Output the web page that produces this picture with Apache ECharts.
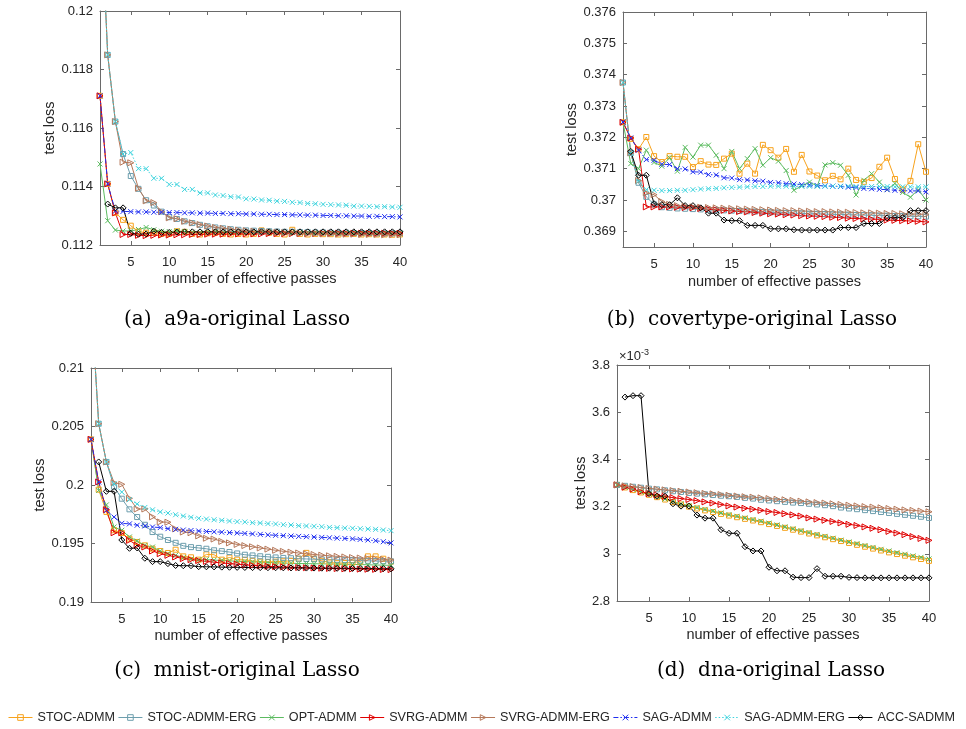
<!DOCTYPE html>
<html><head><meta charset="utf-8">
<script src="https://cdn.jsdelivr.net/npm/echarts@6/dist/echarts.min.js"></script>
<style>html,body{margin:0;padding:0;background:#fff}#c{width:966px;height:729px}</style>
</head><body><div id="c"></div>
<script>
// ---------- data ----------
const passes = [1,2,3,4,5,6,7,8,9,10,11,12,13,14,15,16,17,18,19,20,21,22,23,24,25,26,27,28,29,30,31,32,33,34,35,36,37,38,39,40];
const methods = ['STOC-ADMM','STOC-ADMM-ERG','OPT-ADMM','SVRG-ADMM','SVRG-ADMM-ERG','SAG-ADMM','SAG-ADMM-ERG','ACC-SADMM'];
const xTicks = [5,10,15,20,25,30,35,40];
const yTicksA = [0.112,0.114,0.116,0.118,0.12];
const yTicksB = [0.369,0.37,0.371,0.372,0.373,0.374,0.375,0.376];
const yTicksC = [0.19,0.195,0.2,0.205,0.21];
const yTicksD = [2.8,3,3.2,3.4,3.6,3.8];
const captions = ['(a)  a9a-original Lasso','(b)  covertype-original Lasso','(c)  mnist-original Lasso','(d)  dna-original Lasso'];

// (a) a9a
const a_stoc = [0.1171,0.11409,0.1131,0.11286,0.11266,0.11246,0.11242,0.11243,0.11238,0.11238,0.11247,0.11245,0.11238,0.11236,0.1124,0.11242,0.11238,0.11236,0.11238,0.11236,0.11238,0.1125,0.11242,0.11238,0.11236,0.11252,0.11238,0.11236,0.11238,0.11237,0.11237,0.11236,0.11237,0.11238,0.11236,0.11237,0.11236,0.11236,0.11235,0.11236];
const a_stocErg = [0.1243,0.1185,0.11622,0.11511,0.11436,0.11392,0.11353,0.11335,0.11314,0.11295,0.11289,0.11281,0.11275,0.11269,0.11264,0.1126,0.11257,0.11254,0.11252,0.1125,0.11249,0.11248,0.11247,0.11246,0.11245,0.11245,0.11244,0.11244,0.11243,0.11243,0.11242,0.11242,0.11242,0.11241,0.11241,0.11241,0.1124,0.1124,0.1124,0.1124];
const a_opt = [0.11477,0.11283,0.11251,0.11248,0.11248,0.11253,0.1126,0.11252,0.11247,0.11246,0.11248,0.11246,0.11244,0.11243,0.11243,0.11244,0.11243,0.11242,0.11243,0.11243,0.11242,0.11243,0.11243,0.11242,0.11243,0.11242,0.11242,0.11243,0.11242,0.11242,0.11242,0.11241,0.11242,0.11241,0.11241,0.11241,0.11241,0.1124,0.11241,0.1124];
const a_svrg = [0.1171,0.11409,0.1131,0.11236,0.11236,0.11233,0.11232,0.11233,0.11234,0.11234,0.11235,0.11235,0.11236,0.11236,0.11237,0.11237,0.11237,0.11238,0.11238,0.11238,0.11238,0.11238,0.11239,0.11239,0.11239,0.11239,0.11239,0.11239,0.11239,0.1124,0.1124,0.1124,0.1124,0.1124,0.1124,0.1124,0.1124,0.1124,0.1124,0.1124];
const a_svrgErg = [0.1243,0.1185,0.11622,0.11483,0.11481,0.11394,0.11351,0.11345,0.11314,0.11293,0.1129,0.11281,0.11276,0.1127,0.11265,0.1126,0.11257,0.11254,0.11251,0.11249,0.11247,0.11245,0.11244,0.11243,0.11242,0.11241,0.1124,0.11239,0.11239,0.11238,0.11238,0.11237,0.11237,0.11237,0.11236,0.11236,0.11236,0.11235,0.11235,0.11235];
const a_sag = [0.1171,0.11409,0.11316,0.11315,0.11314,0.11313,0.11313,0.11312,0.11312,0.11311,0.11311,0.1131,0.1131,0.11309,0.11309,0.11308,0.11308,0.11307,0.11307,0.11306,0.11306,0.11305,0.11305,0.11304,0.11304,0.11303,0.11303,0.11302,0.11302,0.11301,0.11301,0.113,0.113,0.11299,0.11299,0.11298,0.11298,0.11297,0.11297,0.11296];
const a_sagErg = [0.1243,0.1185,0.11622,0.11511,0.11516,0.11461,0.11461,0.11428,0.11428,0.11407,0.11407,0.1139,0.1139,0.11378,0.11378,0.11371,0.11369,0.11365,0.11364,0.11358,0.11357,0.11354,0.11353,0.1135,0.11349,0.11346,0.11345,0.11342,0.11341,0.11339,0.11338,0.11337,0.11336,0.11333,0.11333,0.11332,0.11331,0.11331,0.1133,0.11329];
const a_acc = [null,0.1134,0.11327,0.11327,0.1124,0.11237,0.11238,0.11247,0.11243,0.11243,0.11244,0.11245,0.11245,0.11245,0.11245,0.11245,0.11245,0.11245,0.11245,0.11245,0.11245,0.11245,0.11245,0.11245,0.11245,0.11245,0.11245,0.11245,0.11245,0.11245,0.11245,0.11245,0.11245,0.11245,0.11245,0.11245,0.11245,0.11245,0.11245,0.11245];

// (b) covertype
const b_stoc = [0.37248,0.37195,0.37162,0.37201,0.3714,0.37121,0.3714,0.37138,0.37138,0.37105,0.37124,0.37113,0.37112,0.37132,0.37148,0.37084,0.37116,0.37084,0.37176,0.37159,0.37135,0.37163,0.3709,0.37144,0.37091,0.37078,0.37063,0.37077,0.37066,0.371,0.37064,0.37058,0.3707,0.37106,0.37135,0.37067,0.37033,0.37061,0.37178,0.3709];
const b_stocErg = [0.37375,0.3715,0.37055,0.3701,0.36986,0.36977,0.36975,0.36973,0.36972,0.36971,0.3697,0.36969,0.36968,0.36967,0.36966,0.36965,0.36964,0.36963,0.36962,0.36961,0.3696,0.36959,0.36958,0.36957,0.36956,0.36956,0.36955,0.36954,0.36954,0.36953,0.36952,0.36952,0.36951,0.3695,0.3695,0.36949,0.36949,0.36948,0.36948,0.36947];
const b_opt = [0.37248,0.37116,0.371,0.37159,0.3712,0.37108,0.37135,0.37092,0.37168,0.37137,0.37175,0.37175,0.37143,0.371,0.37155,0.371,0.37132,0.37164,0.37111,0.37135,0.37124,0.37094,0.37031,0.37045,0.37057,0.37045,0.37112,0.37119,0.37111,0.37079,0.37016,0.37063,0.37084,0.37057,0.37033,0.37053,0.37024,0.37009,0.37033,0.37];
const b_svrg = [0.37248,0.37198,0.37162,0.36978,0.36978,0.36978,0.36978,0.36977,0.36976,0.36975,0.36973,0.36971,0.36969,0.36967,0.36965,0.36963,0.36962,0.3696,0.36958,0.36956,0.36955,0.36953,0.36952,0.3695,0.36949,0.36948,0.36947,0.36945,0.36944,0.36942,0.36941,0.3694,0.36939,0.36938,0.36936,0.36935,0.36934,0.36933,0.36932,0.3693];
const b_svrgErg = [0.37375,0.3715,0.37062,0.37023,0.37017,0.36995,0.36986,0.36982,0.3698,0.36978,0.36977,0.36976,0.36975,0.36974,0.36973,0.36972,0.36971,0.3697,0.36969,0.36968,0.36967,0.36966,0.36966,0.36965,0.36964,0.36963,0.36963,0.36962,0.36961,0.36961,0.3696,0.36959,0.36959,0.36958,0.36957,0.36957,0.36956,0.36955,0.36955,0.36954];
const b_sag = [0.37249,0.37198,0.37159,0.37129,0.37127,0.37114,0.37113,0.371,0.37099,0.3709,0.37089,0.37081,0.3708,0.37071,0.3707,0.37065,0.37064,0.37061,0.3706,0.37056,0.37055,0.37052,0.37051,0.37049,0.37048,0.37046,0.37045,0.37044,0.37043,0.37041,0.3704,0.37037,0.37036,0.37034,0.37033,0.37031,0.3703,0.37029,0.37029,0.37026];
const b_sagErg = [0.37375,0.3715,0.3706,0.37033,0.37031,0.3703,0.3703,0.37031,0.37031,0.37033,0.37035,0.37036,0.37037,0.37039,0.3704,0.37041,0.37042,0.37043,0.37043,0.37044,0.37044,0.37044,0.37044,0.37044,0.37044,0.37044,0.37044,0.37044,0.37044,0.37044,0.37043,0.37043,0.37043,0.37043,0.37043,0.37042,0.37042,0.37042,0.37042,0.37042];
const b_acc = [null,0.37155,0.37079,0.37079,0.36988,0.36985,0.36985,0.37007,0.36982,0.36982,0.36975,0.36958,0.36958,0.36936,0.36934,0.36934,0.36919,0.36919,0.36919,0.36908,0.36908,0.36908,0.36905,0.36904,0.36904,0.36904,0.36904,0.36904,0.36912,0.36912,0.36912,0.36925,0.36925,0.36925,0.36943,0.36944,0.36944,0.36966,0.36966,0.36966];

// (c) mnist
const c_stoc = [0.2039,0.1996,0.1977,0.19613,0.1959,0.19541,0.19513,0.19484,0.19456,0.19436,0.19419,0.19447,0.1939,0.19382,0.19362,0.19407,0.19404,0.19362,0.1938,0.19362,0.1936,0.19352,0.19345,0.19342,0.19345,0.19348,0.19352,0.1937,0.1942,0.1937,0.19352,0.19338,0.19332,0.19333,0.19338,0.19345,0.1939,0.1939,0.1937,0.19345];
const c_stocErg = [0.2161,0.20524,0.20197,0.19985,0.19883,0.19792,0.19726,0.1966,0.19598,0.19558,0.1953,0.19506,0.1948,0.19469,0.19462,0.19455,0.19442,0.19435,0.19427,0.19415,0.19404,0.19398,0.19391,0.19386,0.19381,0.19377,0.19374,0.1937,0.19368,0.19366,0.19364,0.19362,0.1936,0.19358,0.19356,0.19354,0.19352,0.1935,0.19349,0.19348];
const c_opt = [0.2039,0.19954,0.1983,0.19641,0.19613,0.19556,0.19521,0.19484,0.1947,0.19436,0.19413,0.19399,0.1938,0.19367,0.19362,0.19362,0.19358,0.19355,0.19352,0.19348,0.19346,0.19343,0.19341,0.19338,0.19335,0.19333,0.19331,0.19329,0.19328,0.19327,0.19326,0.19325,0.19323,0.19322,0.19321,0.1932,0.19318,0.19316,0.19315,0.19313];
const c_svrg = [0.2039,0.20026,0.19789,0.19592,0.19592,0.19527,0.19484,0.1947,0.19436,0.19413,0.19399,0.19385,0.19371,0.19362,0.19354,0.19347,0.1934,0.19334,0.19328,0.19323,0.19318,0.19313,0.19309,0.19305,0.19302,0.193,0.19297,0.19295,0.19293,0.19291,0.19289,0.19287,0.19286,0.19284,0.19283,0.19281,0.1928,0.19279,0.19278,0.19277];
const c_svrgErg = [0.2161,0.20524,0.20197,0.2002,0.20006,0.19886,0.19795,0.19795,0.19728,0.19684,0.19682,0.19625,0.19598,0.19592,0.19565,0.19545,0.19538,0.19518,0.19505,0.19492,0.19482,0.19472,0.19462,0.19452,0.19442,0.19433,0.19426,0.19419,0.19412,0.19406,0.194,0.19395,0.1939,0.19385,0.1938,0.19376,0.19372,0.19368,0.19364,0.19358];
const c_sag = [0.2039,0.20026,0.19783,0.19726,0.19672,0.19668,0.19656,0.1965,0.19641,0.19636,0.19627,0.19621,0.19615,0.19611,0.19607,0.19603,0.196,0.19597,0.19593,0.1959,0.19586,0.19582,0.19578,0.19574,0.1957,0.19567,0.19564,0.19561,0.19558,0.19555,0.19552,0.19549,0.19546,0.19543,0.1954,0.19535,0.1953,0.19524,0.19515,0.19505];
const c_sagErg = [0.2161,0.20524,0.20197,0.2001,0.1994,0.19875,0.19838,0.19808,0.19788,0.1977,0.1976,0.19746,0.19735,0.19724,0.19715,0.19709,0.19703,0.19698,0.19692,0.19687,0.19684,0.19678,0.19675,0.1967,0.19667,0.19661,0.19658,0.19652,0.1965,0.19647,0.19644,0.19638,0.19635,0.19632,0.1963,0.19627,0.19624,0.19621,0.19615,0.1961];
const c_acc = [null,0.20197,0.19946,0.19946,0.1953,0.19459,0.19462,0.19374,0.19345,0.19345,0.19328,0.19312,0.1931,0.1931,0.19302,0.19301,0.193,0.19298,0.19297,0.19296,0.19295,0.19294,0.19294,0.19293,0.19293,0.19292,0.19291,0.19291,0.1929,0.1929,0.19289,0.19289,0.19288,0.19288,0.19287,0.19286,0.19286,0.19285,0.19285,0.19284];

// (d) dna  (values in units of 1e-3)
const d_stoc = [3.292,3.281,3.27,3.26,3.25,3.24,3.23,3.219,3.209,3.2,3.192,3.184,3.177,3.169,3.162,3.155,3.148,3.141,3.134,3.126,3.118,3.11,3.102,3.094,3.086,3.078,3.07,3.062,3.054,3.046,3.038,3.03,3.022,3.014,3.006,2.999,2.992,2.985,2.978,2.97];
const d_stocErg = [3.292,3.288,3.284,3.28,3.276,3.273,3.269,3.265,3.262,3.258,3.255,3.252,3.249,3.246,3.244,3.241,3.237,3.234,3.229,3.226,3.223,3.22,3.217,3.215,3.212,3.209,3.206,3.202,3.196,3.192,3.189,3.185,3.181,3.177,3.173,3.169,3.165,3.161,3.157,3.152];
const d_opt = [3.292,3.282,3.272,3.262,3.253,3.243,3.232,3.222,3.212,3.204,3.196,3.188,3.181,3.173,3.166,3.159,3.152,3.145,3.138,3.13,3.122,3.114,3.106,3.098,3.09,3.082,3.074,3.066,3.058,3.05,3.043,3.035,3.027,3.019,3.012,3.005,2.998,2.991,2.985,2.978];
const d_svrg = [3.292,3.282,3.274,3.263,3.255,3.249,3.243,3.238,3.234,3.23,3.225,3.22,3.215,3.209,3.203,3.198,3.193,3.189,3.184,3.179,3.175,3.17,3.165,3.16,3.152,3.147,3.142,3.137,3.131,3.125,3.12,3.114,3.108,3.102,3.095,3.088,3.081,3.073,3.065,3.057];
const d_svrgErg = [3.292,3.288,3.285,3.281,3.277,3.274,3.271,3.268,3.265,3.262,3.259,3.256,3.254,3.251,3.248,3.245,3.242,3.24,3.237,3.234,3.231,3.229,3.226,3.223,3.22,3.217,3.215,3.212,3.209,3.206,3.203,3.2,3.198,3.195,3.192,3.189,3.186,3.184,3.181,3.178];
const d_acc = [null,3.664,3.67,3.67,3.255,3.244,3.244,3.212,3.202,3.202,3.164,3.151,3.151,3.102,3.087,3.087,3.03,3.012,3.012,2.943,2.928,2.928,2.901,2.899,2.899,2.937,2.905,2.905,2.905,2.9,2.899,2.898,2.898,2.898,2.898,2.898,2.898,2.898,2.898,2.898];

// ---------- styling ----------
const FONT = '"Liberation Sans", Arial, Helvetica, sans-serif';
const TXT = '#262626';
const AXC = '#6a6a6a';
const SQ = 'path://M0,0L10,0L10,10L0,10Z';
const DI = 'path://M5,0L10,5L5,10L0,5Z';
const TR = 'path://M0,0L10,5L0,10Z';
const XX = 'path://M0,0L10,10M10,0L0,10';
const mstyle = {
  'STOC-ADMM':     {color:'#F7A21C', symbol:SQ, size:5, type:'solid'},
  'STOC-ADMM-ERG': {color:'#6D9EAD', symbol:SQ, size:5, type:'solid'},
  'OPT-ADMM':      {color:'#5CBB60', symbol:XX, size:5, type:'solid'},
  'SVRG-ADMM':     {color:'#E00000', symbol:TR, size:6, type:'solid'},
  'SVRG-ADMM-ERG': {color:'#B5785A', symbol:TR, size:6, type:'solid'},
  'SAG-ADMM':      {color:'#1F2EF0', symbol:XX, size:5, type:[5,2,1.5,2]},
  'SAG-ADMM-ERG':  {color:'#3DD3DD', symbol:XX, size:5, type:[1.5,2]},
  'ACC-SADMM':     {color:'#000000', symbol:DI, size:6, type:'solid'}
};

const plots = [
  {grid:{left:100,top:11,width:300,height:234}, yMin:0.112, yMax:0.12, yTicks:yTicksA, yGap:38, xGap:26,
   series:[a_stoc,a_stocErg,a_opt,a_svrg,a_svrgErg,a_sag,a_sagErg,a_acc]},
  {grid:{left:623,top:12,width:303,height:235}, yMin:0.3685, yMax:0.376, yTicks:yTicksB, yGap:41, xGap:27,
   series:[b_stoc,b_stocErg,b_opt,b_svrg,b_svrgErg,b_sag,b_sagErg,b_acc]},
  {grid:{left:91,top:368,width:300,height:234}, yMin:0.19, yMax:0.21, yTicks:yTicksC, yGap:38, xGap:26,
   series:[c_stoc,c_stocErg,c_opt,c_svrg,c_svrgErg,c_sag,c_sagErg,c_acc]},
  {grid:{left:617,top:365,width:312,height:236}, yMin:2.8, yMax:3.8, yTicks:yTicksD, yGap:24, xGap:26,
   series:[d_stoc,d_stocErg,d_opt,d_svrg,d_svrgErg,null,null,d_acc]}
];
const capPos = [[237,320],[752,320],[237,671],[771,671]];

const grids = [], xAxes = [], yAxes = [], series = [];
const lineOpt = {show:true, onZero:false, lineStyle:{color:AXC, width:1}};
const fmt = v => String(parseFloat(Number(v).toFixed(4)));
plots.forEach((p, i) => {
  grids.push(p.grid);
  xAxes.push({type:'value', gridIndex:i, min:1, max:40, position:'bottom',
    axisLine:lineOpt, splitLine:{show:false},
    axisTick:{show:true, inside:true, length:4, customValues:xTicks, lineStyle:{color:AXC}},
    axisLabel:{customValues:xTicks, margin:11, color:TXT, fontSize:13, fontFamily:FONT},
    name:'number of effective passes', nameLocation:'middle', nameGap:p.xGap,
    nameTextStyle:{color:TXT, fontSize:14.5, fontFamily:FONT}});
  xAxes.push({type:'value', gridIndex:i, min:1, max:40, position:'top',
    axisLine:lineOpt, splitLine:{show:false},
    axisTick:{show:true, inside:true, length:4, customValues:xTicks, lineStyle:{color:AXC}},
    axisLabel:{show:false}});
  yAxes.push({type:'value', gridIndex:i, min:p.yMin, max:p.yMax, position:'left',
    axisLine:lineOpt, splitLine:{show:false},
    axisTick:{show:true, inside:true, length:4, customValues:p.yTicks, lineStyle:{color:AXC}},
    axisLabel:{customValues:p.yTicks, formatter:fmt, margin:7, color:TXT, fontSize:13, fontFamily:FONT},
    name:'test loss', nameLocation:'middle', nameGap:p.yGap,
    nameTextStyle:{color:TXT, fontSize:14.5, fontFamily:FONT}});
  yAxes.push({type:'value', gridIndex:i, min:p.yMin, max:p.yMax, position:'right',
    axisLine:lineOpt, splitLine:{show:false},
    axisTick:{show:true, inside:true, length:4, customValues:p.yTicks, lineStyle:{color:AXC}},
    axisLabel:{show:false}});
  p.series.forEach((arr, k) => {
    if (!arr) return;
    const name = methods[k], st = mstyle[name];
    const pts = [];
    passes.forEach((x, j) => { if (arr[j] != null) pts.push([x, arr[j]]); });
    series.push({
      name, type:'line', xAxisIndex:2*i, yAxisIndex:2*i, data:pts,
      symbol:st.symbol, symbolSize:st.size, showAllSymbol:true, clip:true,
      lineStyle:{color:st.color, width:1, type:st.type},
      itemStyle:{color:'none', borderColor:st.color, borderWidth:1},
      emphasis:{disabled:true}, animation:false, silent:true
    });
  });
});

const graphic = captions.map((t, i) => ({
  type:'text', x:capPos[i][0], y:capPos[i][1],
  style:{text:t, font:'20px "DejaVu Serif", "Liberation Serif", serif', fill:'#000',
    align:'center', verticalAlign:'middle', textAlign:'center', textVerticalAlign:'middle'}
}));
graphic.push({type:'text', x:619, y:356,
  style:{text:'{a|×10}{b|-3}', rich:{a:{fontSize:13, fontFamily:FONT, fill:TXT, color:TXT},
    b:{fontSize:9, fontFamily:FONT, verticalAlign:'top', fill:TXT, color:TXT, padding:[0,0,6,0]}},
    verticalAlign:'middle', textVerticalAlign:'middle'}});

const chart = echarts.init(document.getElementById('c'));
chart.setOption({
  animation:false,
  grid:grids, xAxis:xAxes, yAxis:yAxes, series,
  legend:{data:methods, left:8, top:711, width:2000, padding:0, itemWidth:24, itemHeight:7, itemGap:3,
    itemStyle:{borderWidth:1}, lineStyle:{width:1},
    textStyle:{fontSize:12.6, color:TXT, fontFamily:FONT}, selectedMode:false},
  graphic
});
</script></body></html>
